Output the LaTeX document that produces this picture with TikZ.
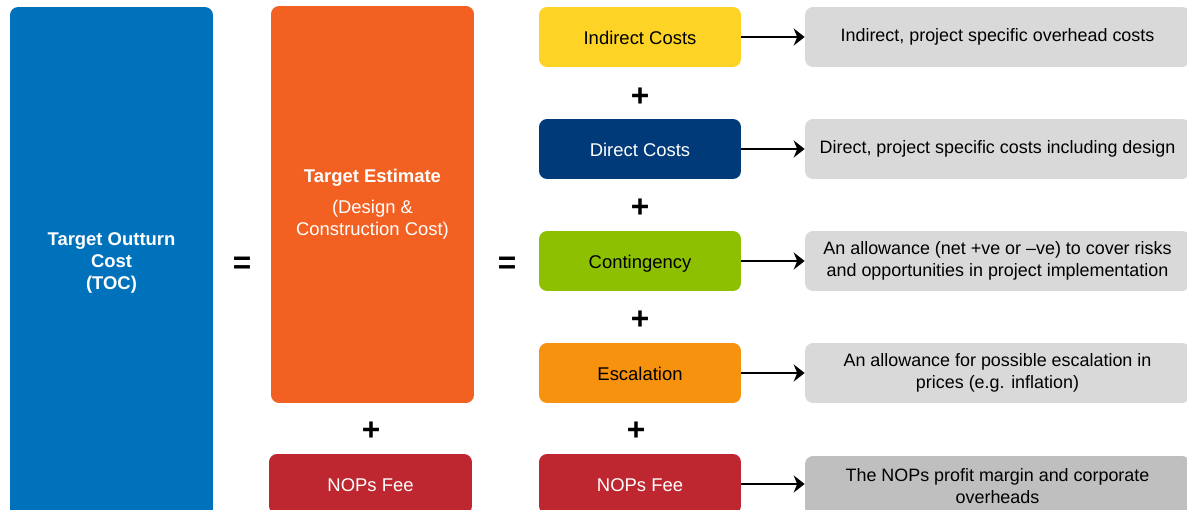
\documentclass[tikz,border=0pt]{standalone}
\usepackage{fontspec}
\setmainfont{Liberation Sans}
\usepackage{tikz}
\usetikzlibrary{arrows,arrows.meta,%
                shapes,positioning}

\definecolor{tocblue}{RGB}{0,114,188}
\definecolor{estorange}{RGB}{242,97,34}
\definecolor{feered}{RGB}{190,38,48}
\definecolor{indyellow}{RGB}{253,212,38}
\definecolor{dirnavy}{RGB}{0,58,120}
\definecolor{contgreen}{RGB}{141,192,0}
\definecolor{escorange}{RGB}{247,146,14}
\definecolor{desclight}{RGB}{217,217,217}
\definecolor{descdark}{RGB}{191,191,191}

\tikzset{
  costbox/.style={rounded corners=0.16cm, inner sep=0pt, align=center,
    font=\fontsize{10.5}{12.5}\selectfont},
  partbox/.style={costbox, minimum width=4.04cm, minimum height=1.2cm,
    text height=9pt, text depth=0pt},
  descbox/.style={costbox, fill=desclight, minimum width=7.7cm, minimum height=1.2cm,
    font=\fontsize{10.2}{12.5}\selectfont},
  opsign/.style={font=\fontsize{18}{20}\selectfont\bfseries, inner sep=0pt},
  descarrow/.style={-{Stealth[length=0.22cm,width=0.34cm,inset=0.07cm]}, line width=1.5pt}
}

\begin{document}
\begin{tikzpicture}[x=0.02cm, y=-0.02cm]
\clip (0,0) rectangle (1187,510);
% left side
\node[costbox, fill=tocblue, text=white, minimum width=4.06cm, minimum height=10.24cm,
  font=\fontsize{10.5}{12.3}\selectfont\bfseries] (toc) at (111.5,263)
  {Target Outturn\\Cost\\(TOC)};
\node[opsign] (eqa) at (242,265) {=};
\node[costbox, fill=estorange, text=white, minimum width=4.06cm, minimum height=7.94cm]
  (est) at (372.5,204.5)
  {\textbf{Target Estimate}\\[5pt](Design \&\\Construction Cost)};
\node[opsign] (plusf) at (371,431) {+};
\node[partbox, fill=feered, text=white, minimum width=4.06cm] (fee) at (370.5,484) {NOPs Fee};
\node[opsign] (eqb) at (507,265) {=};

% cost parts
\node[partbox, fill=indyellow] (ind) at (640,37) {Indirect Costs};
\node[opsign] (plusa) at (640,97) {+};
\node[partbox, fill=dirnavy, text=white] (dir) at (640,149) {Direct Costs};
\node[opsign] (plusb) at (640,208) {+};
\node[partbox, fill=contgreen] (cont) at (640,261) {Contingency};
\node[opsign] (plusc) at (640,320) {+};
\node[partbox, fill=escorange] (esc) at (640,373) {Escalation};
\node[opsign] (plusd) at (636,431) {+};
\node[partbox, fill=feered, text=white] (nops) at (640,484) {NOPs Fee};

% descriptions
\node[descbox] (dind) at (997.5,37) {Indirect, project specific overhead costs};
\node[descbox] (ddir) at (997.5,149) {Direct, project specific costs including design};
\node[descbox] (dcont) at (997.5,261)
  {An allowance (net +ve or –ve) to cover risks\\and opportunities in project implementation};
\node[descbox] (desc) at (997.5,373)
  {An allowance for possible escalation in\\prices (e.g. inflation)};
\node[descbox, fill=descdark] (dnops) at (997.5,486)
  {The NOPs profit margin and corporate\\overheads};

\draw[descarrow] (ind) -- (dind);
\draw[descarrow] (dir) -- (ddir);
\draw[descarrow] (cont) -- (dcont);
\draw[descarrow] (esc) -- (desc);
\draw[descarrow] (nops) -- (nops -| dnops.west);
\end{tikzpicture}
\end{document}
